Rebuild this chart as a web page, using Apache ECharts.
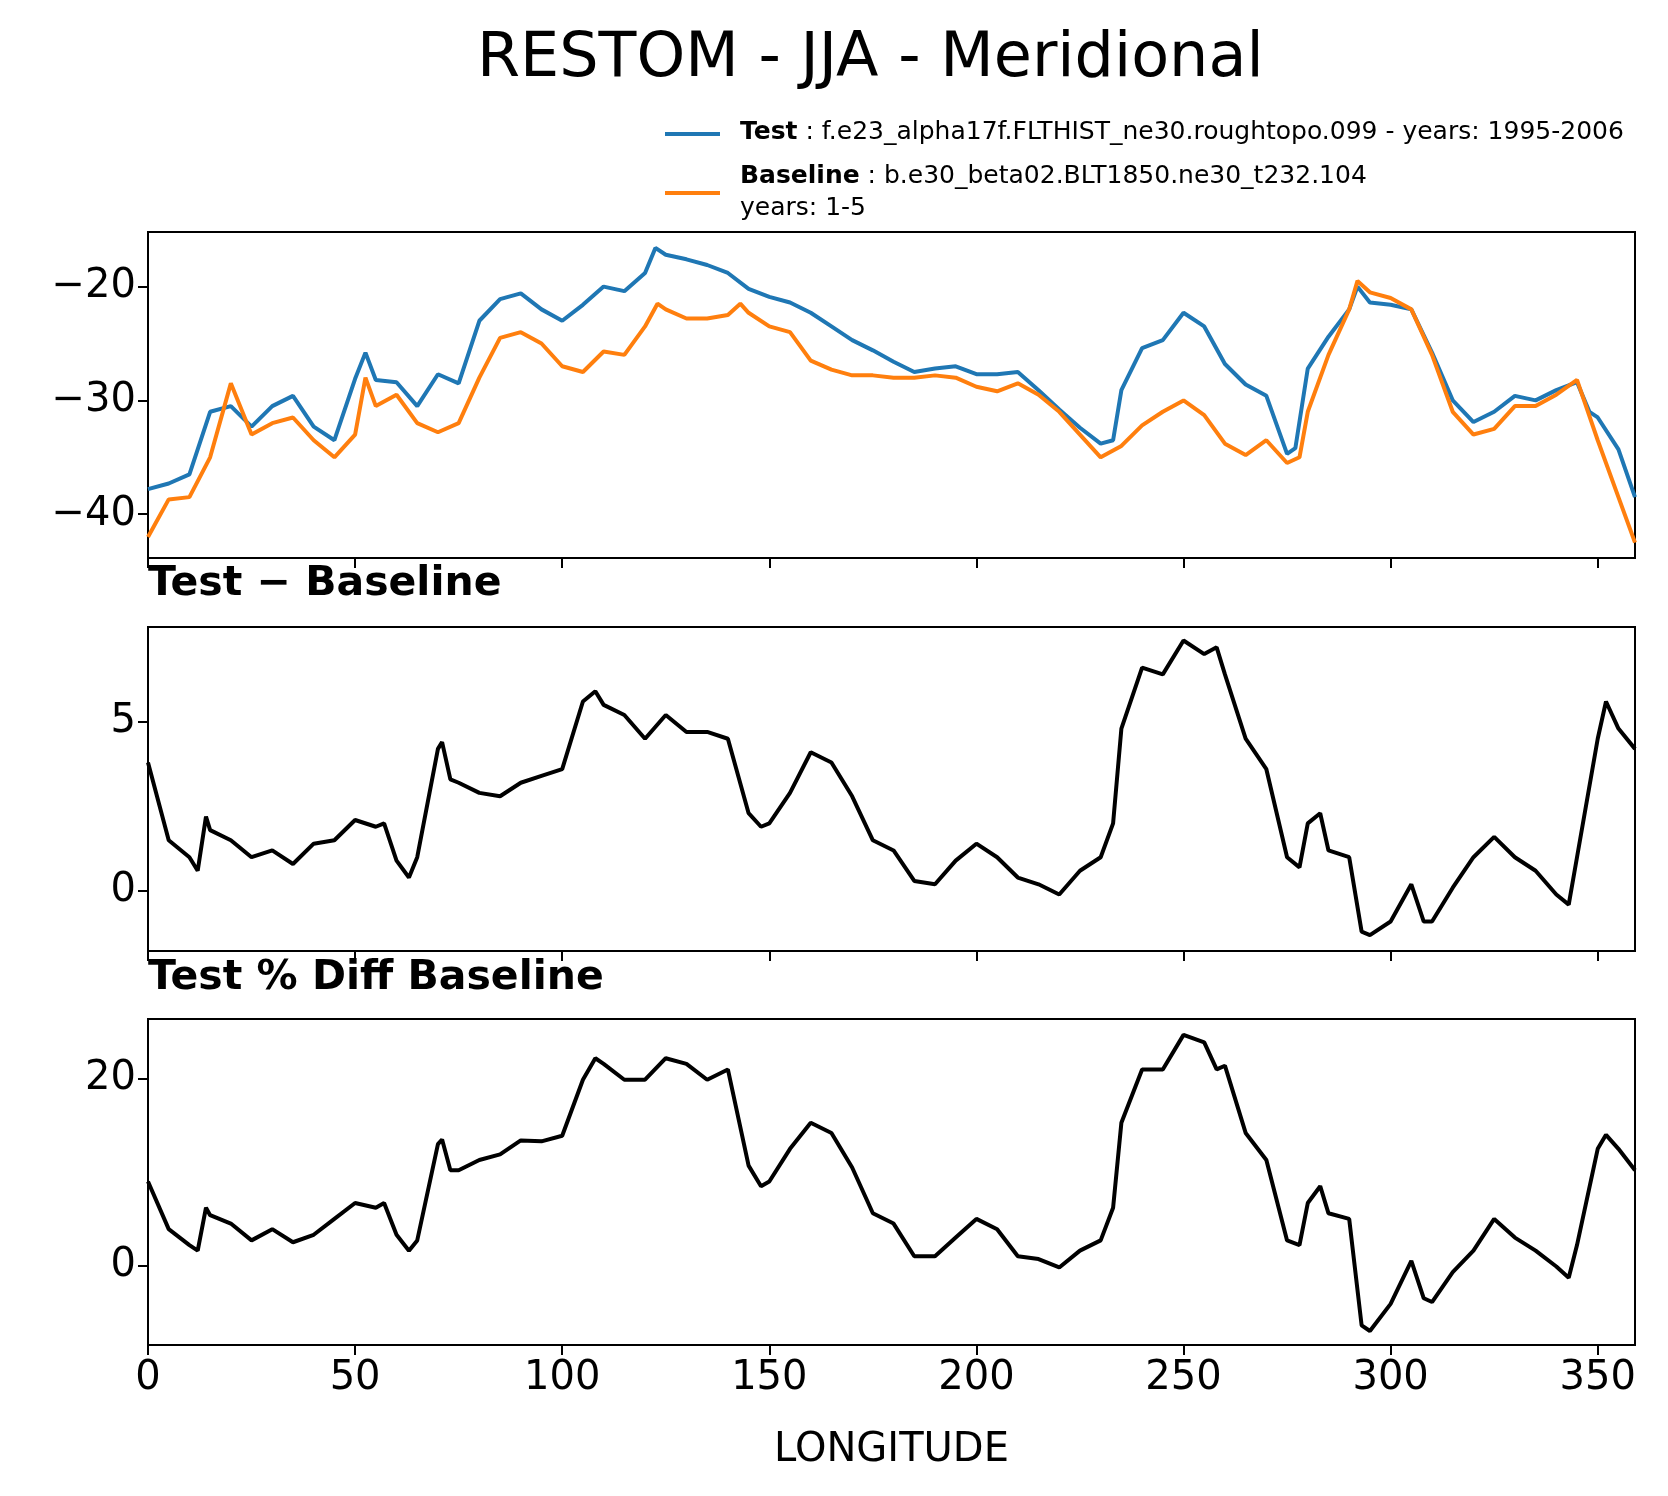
<!DOCTYPE html>
<html><head><meta charset="utf-8">
<script src="https://cdn.jsdelivr.net/npm/echarts@6/dist/echarts.min.js"></script>
<style>html,body{margin:0;background:#fff}#c{width:1668px;height:1496px}</style>
</head><body><div id="c"></div>
<script>
const testLon=[0,5,10,15,20,25,30,35,40,45,50,52.5,55,60,65,70,75,80,85,90,95,100,105,110,115,120,122.5,125,130,135,140,145,150,155,160,165,170,175,180,185,190,195,200,205,210,215,220,225,230,233,235,240,245,250,255,260,265,270,275,277,280,285,290,292,295,300,305,310,315,320,325,330,335,340,345,348,350,355,359];
const testVal=[-37.8,-37.3,-36.5,-31,-30.5,-32.3,-30.5,-29.6,-32.3,-33.5,-28.1,-25.8,-28.2,-28.4,-30.5,-27.7,-28.5,-23,-21.1,-20.6,-22,-23,-21.6,-20,-20.4,-18.8,-16.6,-17.2,-17.6,-18.1,-18.8,-20.2,-20.9,-21.4,-22.3,-23.5,-24.7,-25.6,-26.6,-27.5,-27.2,-27,-27.7,-27.7,-27.5,-29.1,-30.8,-32.4,-33.8,-33.5,-29.1,-25.4,-24.7,-22.3,-23.5,-26.8,-28.6,-29.6,-34.7,-34.2,-27.2,-24.4,-22,-20,-21.4,-21.6,-22,-25.8,-30,-31.9,-31,-29.6,-30,-29.1,-28.4,-31,-31.5,-34.3,-38.5];
const baseLon=[0,5,10,15,20,25,30,35,40,45,50,52.5,55,60,65,70,75,80,85,90,95,100,105,110,115,120,123,125,130,135,140,143,145,150,155,160,165,170,175,180,185,190,195,200,205,210,215,220,225,230,235,240,245,250,255,260,265,270,275,278,280,285,290,292,295,300,305,310,315,320,325,330,335,340,345,350,355,359];
const baseVal=[-42,-38.7,-38.5,-35,-28.5,-33,-32,-31.5,-33.5,-35,-33,-28,-30.5,-29.5,-32,-32.8,-32,-28,-24.5,-24,-25,-27,-27.5,-25.7,-26,-23.5,-21.5,-22,-22.8,-22.8,-22.5,-21.5,-22.3,-23.5,-24,-26.5,-27.3,-27.8,-27.8,-28,-28,-27.8,-28,-28.8,-29.2,-28.5,-29.5,-31,-33,-35,-34,-32.2,-31,-30,-31.3,-33.8,-34.8,-33.5,-35.5,-35,-31,-26,-22,-19.5,-20.5,-21,-22,-26,-31,-33,-32.5,-30.5,-30.5,-29.5,-28.2,-33.5,-38.5,-42.5];
const diffLon=[0,5,10,12,14,15,20,25,30,35,40,45,50,55,57,60,63,65,70,71,73,75,80,85,90,95,100,105,108,110,115,120,125,130,135,140,145,148,150,155,160,165,170,175,180,185,190,195,200,205,210,215,220,225,230,233,235,240,245,250,255,258,260,265,270,275,278,280,283,285,290,293,295,300,305,308,310,315,320,325,330,335,340,343,345,350,352,355,359];
const diffVal=[3.8,1.5,1.0,0.6,2.2,1.8,1.5,1.0,1.2,0.8,1.4,1.5,2.1,1.9,2.0,0.9,0.4,1.0,4.2,4.4,3.3,3.2,2.9,2.8,3.2,3.4,3.6,5.6,5.9,5.5,5.2,4.5,5.2,4.7,4.7,4.5,2.3,1.9,2.0,2.9,4.1,3.8,2.8,1.5,1.2,0.3,0.2,0.9,1.4,1.0,0.4,0.2,-0.1,0.6,1.0,2.0,4.8,6.6,6.4,7.4,7.0,7.2,6.4,4.5,3.6,1.0,0.7,2.0,2.3,1.2,1.0,-1.2,-1.3,-0.9,0.2,-0.9,-0.9,0.1,1.0,1.6,1.0,0.6,-0.1,-0.4,1.0,4.5,5.6,4.8,4.2];
const pctVal=[9,3.9,2.2,1.6,6.2,5.4,4.5,2.7,3.9,2.5,3.3,5.0,6.7,6.2,6.7,3.3,1.6,2.7,13,13.5,10.2,10.2,11.3,11.9,13.4,13.3,13.9,19.9,22.2,21.6,19.9,19.9,22.2,21.6,19.9,21,10.7,8.5,9.0,12.5,15.3,14.2,10.5,5.6,4.5,1.0,1.0,3.0,5.0,3.9,1.0,0.7,-0.2,1.6,2.7,6.2,15.3,21,21,24.7,23.9,21,21.4,14.2,11.3,2.7,2.2,6.7,8.5,5.6,5.0,-6.4,-7.0,-4.1,0.5,-3.5,-3.9,-0.7,1.6,5.0,3.0,1.6,-0.1,-1.3,2.2,12.5,14,12.5,10.2];
const xTicks=[0,50,100,150,200,250,300,350];
const yTicks1=[-40,-30,-20], yTicks2=[0,5], yTicks3=[0,20];

const pair=(xs,ys)=>xs.map((x,i)=>[x,ys[i]]);
const font='DejaVu Sans';
const L=148,W=1487;
const grids=[{left:L,width:W,top:232,height:326},{left:L,width:W,top:627,height:324},{left:L,width:W,top:1019,height:326}];
function xa(i,labels){return {type:'value',gridIndex:i,min:0,max:359,
 axisLine:{onZero:false,lineStyle:{color:'#000',width:2}},
 axisTick:{show:true,length:10,customValues:xTicks,lineStyle:{color:'#000',width:2}},
 axisLabel:{show:labels,customValues:xTicks,color:'#000',fontSize:40,fontFamily:font,margin:14},
 splitLine:{show:false},
 name:labels?'LONGITUDE':'',nameLocation:'middle',nameGap:86,nameTextStyle:{color:'#000',fontSize:40,fontFamily:font}};}
function ya(i,min,max,ticks){return {type:'value',gridIndex:i,min:min,max:max,
 axisLine:{show:true,lineStyle:{color:'#000',width:2}},
 axisTick:{show:true,length:10,customValues:ticks,lineStyle:{color:'#000',width:2}},
 axisLabel:{customValues:ticks,color:'#000',fontSize:40,fontFamily:font,margin:12,formatter:v=>String(v).replace('-','\u2212')},
 splitLine:{show:false}};}
const frame=g=>({type:'rect',shape:{x:g.left,y:g.top,width:g.width,height:g.height},style:{fill:'none',stroke:'#000',lineWidth:2},silent:true,z:-1});
const ls=(c)=>({color:c,width:4});
const rich={b:{fontWeight:'bold',fontSize:25,fontFamily:font,fill:'#000'},n:{fontSize:25,fontFamily:font,fill:'#000'}};
const chart=echarts.init(document.getElementById('c'));
chart.setOption({
 animation:false,
 title:{text:'RESTOM - JJA - Meridional',left:472,top:24,textStyle:{fontSize:62,fontWeight:'normal',color:'#000',fontFamily:font}},
 grid:grids,
 xAxis:[xa(0,false),xa(1,false),xa(2,true)],
 yAxis:[ya(0,-43.85,-15.2,yTicks1),ya(1,-1.77,7.8,yTicks2),ya(2,-8.5,26.4,yTicks3)],
 series:[
  {type:'line',xAxisIndex:0,yAxisIndex:0,data:pair(testLon,testVal),symbol:'none',lineStyle:ls('#1f77b4'),z:3},
  {type:'line',xAxisIndex:0,yAxisIndex:0,data:pair(baseLon,baseVal),symbol:'none',lineStyle:ls('#ff7f0e'),z:4},
  {type:'line',xAxisIndex:1,yAxisIndex:1,data:pair(diffLon,diffVal),symbol:'none',lineStyle:ls('#000')},
  {type:'line',xAxisIndex:2,yAxisIndex:2,data:pair(diffLon,pctVal),symbol:'none',lineStyle:ls('#000')}
 ],
 graphic:[frame(grids[0]),frame(grids[1]),frame(grids[2]),
  {type:'line',shape:{x1:665,y1:134,x2:720,y2:134},style:{stroke:'#1f77b4',lineWidth:4}},
  {type:'line',shape:{x1:665,y1:193,x2:720,y2:193},style:{stroke:'#ff7f0e',lineWidth:4}},
  {type:'text',left:740,top:120,style:{text:'{b|Test}{n| : f.e23_alpha17f.FLTHIST_ne30.roughtopo.099 - years: 1995-2006}',rich:rich}},
  {type:'text',left:740,top:164,style:{text:'{b|Baseline}{n| : b.e30_beta02.BLT1850.ne30_t232.104}',rich:rich}},
  {type:'text',left:740,top:196,style:{text:'years: 1-5',fontSize:25,fontFamily:font,fill:'#000'}},
  {type:'text',left:148,top:564,style:{text:'Test \u2212 Baseline',fontSize:41,fontWeight:'bold',fontFamily:font,fill:'#000'}},
  {type:'text',left:148,top:958,style:{text:'Test % Diff Baseline',fontSize:41,fontWeight:'bold',fontFamily:font,fill:'#000'}}
 ]
});
</script></body></html>
